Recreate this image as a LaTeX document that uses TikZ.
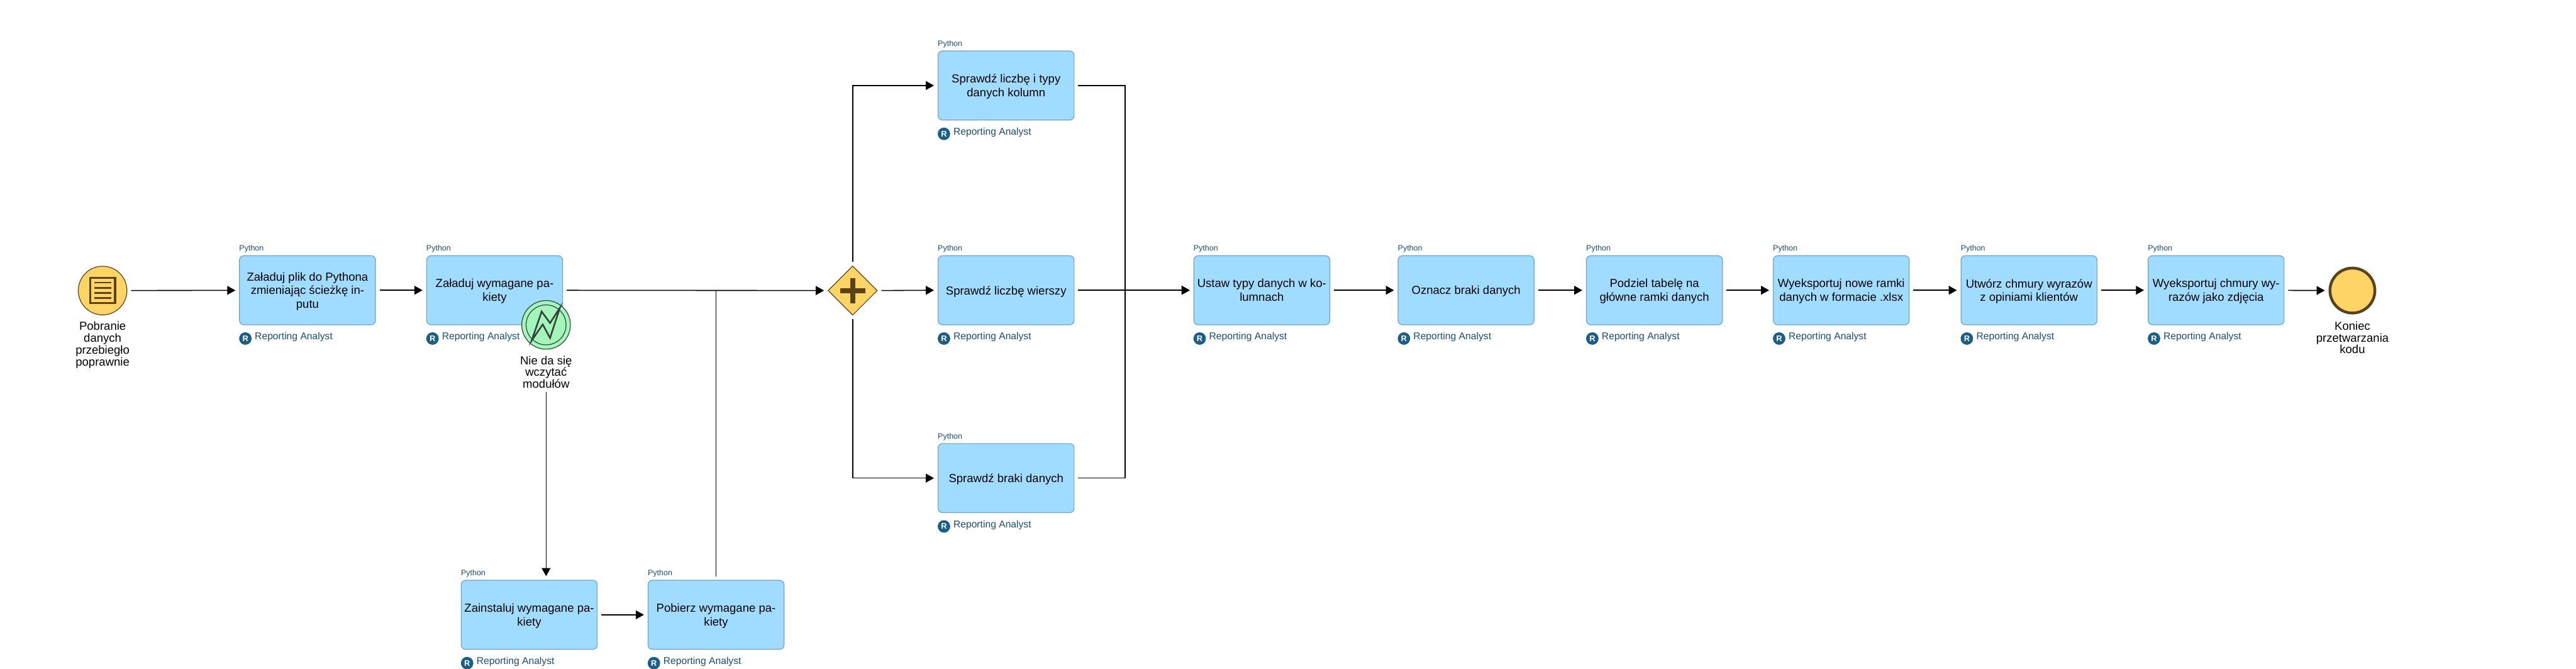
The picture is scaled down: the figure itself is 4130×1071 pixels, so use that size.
\documentclass[tikz,border=0pt]{standalone}
\usepackage{xcolor}
\usepackage{fontspec}
\setmainfont{Liberation Sans}
\usetikzlibrary{shapes.geometric, arrows.meta, positioning, calc}
\definecolor{taskfill}{RGB}{160,220,255}
\definecolor{taskline}{RGB}{110,160,208}
\definecolor{evtfill}{RGB}{255,212,102}
\definecolor{evtline}{RGB}{90,67,24}
\definecolor{errfill}{RGB}{163,245,187}
\definecolor{errline}{RGB}{52,68,56}
\definecolor{roleblue}{RGB}{27,94,135}
\definecolor{roletext}{RGB}{27,79,114}
\tikzset{
  task/.style={rectangle, draw=taskline, fill=taskfill, minimum width=218pt,
    minimum height=110.6pt, inner sep=0pt, align=center, rounded corners=7pt,
    line width=1.2pt, text depth=0pt, font=\fontsize{18.7}{22}\selectfont},
  startevt/.style={circle, draw=evtline, fill=evtfill, minimum size=78pt,
    inner sep=0pt, line width=1.2pt},
  endevt/.style={circle, draw=evtline, fill=evtfill, minimum size=72pt,
    inner sep=0pt, line width=4.5pt},
  errevt/.style={circle, draw=errline, fill=errfill, minimum size=78pt,
    inner sep=0pt, line width=1.2pt},
  gateway/.style={diamond, draw=evtline, fill=evtfill, minimum width=79pt,
    minimum height=79pt, inner sep=0pt, line width=1.2pt},
  evtlabel/.style={align=center, inner sep=0pt, font=\fontsize{18.7}{19}\selectfont},
  langlabel/.style={anchor=south west, inner sep=0pt, text=roletext,
    font=\fontsize{12.6}{14}\selectfont},
  rolebadge/.style={circle, fill=roleblue, text=white, minimum size=20pt, inner sep=0pt,
    font=\fontsize{13}{13}\selectfont\bfseries},
  rolelabel/.style={anchor=west, inner sep=0pt, text=roletext,
    font=\fontsize{15.8}{18}\selectfont},
  flow/.style={-{Triangle[length=13pt,width=14pt]}, line width=1.6pt, color=black,
    shorten >=6pt, shorten <=6pt}
}
\begin{document}
\begin{tikzpicture}[x=1pt, y=-1pt]
  \useasboundingbox[fill=white] (0,0) rectangle (4130,1071);

  % Events and gateway
  \node[startevt] (start) at (164.5,465.5) {};
  \node[evtlabel, below=10pt of start] (startlabel) {Pobranie\\danych\\przebiegło\\poprawnie};
  \node[endevt] (finish) at (3771.5,465.5) {};
  \node[evtlabel, below=11pt of finish] (finishlabel) {Koniec\\przetwarzania\\kodu};
  \node[gateway] (gate) at (1367,465.5) {};

  % Main row
  \node[task] (loadfile) at (493,465) {Załaduj plik do Pythona\\zmieniając ścieżkę in-\\putu};
  \node[task] (loadpkg) at (793,465) {Załaduj wymagane pa-\\kiety};
  \node[task] (settypes) at (2023,465) {Ustaw typy danych w ko-\\lumnach};
  \node[task] (marknull) at (2350.5,465) {Oznacz braki danych};
  \node[task] (split) at (2652.5,465) {Podziel tabelę na\\główne ramki danych};
  \node[task] (export) at (2952,465) {Wyeksportuj nowe ramki\\danych w formacie .xlsx};
  \node[task] (clouds) at (3253,465) {Utwórz chmury wyrazów\\z opiniami klientów};
  \node[task] (saveimg) at (3553,465) {Wyeksportuj chmury wy-\\razów jako zdjęcia};

  % Parallel checks
  \node[task] (chkcols) at (1613,137) {Sprawdź liczbę i typy\\danych kolumn};
  \node[task] (chkrows) at (1613,465) {Sprawdź liczbę wierszy};
  \node[task] (chknull) at (1613,766) {Sprawdź braki danych};

  % Error branch
  \node[task] (install) at (848.5,985) {Zainstaluj wymagane pa-\\kiety};
  \node[task] (fetch) at (1148,985) {Pobierz wymagane pa-\\kiety};
  \node[errevt] (err) at (875.5,520.5) {};
  \node[evtlabel, below=10pt of err] (errlabel) {Nie da się\\wczytać\\modułów};

  % Task captions
  \foreach \t in {loadfile,loadpkg,settypes,marknull,split,export,clouds,saveimg,chkcols,chkrows,chknull,install,fetch} {
    \node[langlabel] (\t-lang) at ($(\t.north west)+(0,-4)$) {Python};
    \node[rolebadge] (\t-badge) at ($(\t.south west)+(10,21.5)$) {R};
    \node[rolelabel] (\t-role) at ($(\t.south west)+(25,19)$) {Reporting Analyst};
  }

  % Start icon
  \draw[evtline, line width=3.2pt] ($(start)+(-20,-20)$) rectangle ($(start)+(20,20)$);
  \foreach \dy in {-12.5,-4.2,4,12} {
    \draw[evtline, line width=2.4pt] ($(start)+(-13.5,\dy)$) -- ($(start)+(13.5,\dy)$);
  }

  % Gateway plus
  \fill[evtline] ($(gate)+(-20,-4)$) rectangle ($(gate)+(20,4)$);
  \fill[evtline] ($(gate)+(-4,-20)$) rectangle ($(gate)+(4,20)$);

  % Error mark
  \draw[errline, line width=1.2pt] (err) circle (32);
  \draw[errline, line width=2.6pt, miter limit=10] ($(err)+(-23.2,25.3)$) -- ($(err)+(-7.1,-21.3)$)
    -- ($(err)+(6.4,-3)$) -- ($(err)+(22.1,-27.3)$) -- ($(err)+(6.4,21)$)
    -- ($(err)+(-5.4,-0.7)$) -- cycle;

  % Connectors
  \draw[flow] (start) -- (loadfile);
  \draw[flow] (loadfile) -- (loadpkg);
  \draw[flow] (loadpkg) -- (gate);
  \draw[flow] (errlabel.south) -- (errlabel.south |- install.north);
  \draw[flow] (install) -- (fetch);
  \draw[flow] (fetch.north) |- (gate.west);
  \draw[flow] (gate.north) |- (chkcols.west);
  \draw[flow] (gate.east) -- (chkrows.west);
  \draw[flow] (gate.south) |- (chknull.west);
  \coordinate (merge) at (1804,465);
  \draw[flow] (chkcols.east) -| (merge) -- (settypes.west);
  \draw[flow] (chkrows.east) -- (settypes.west);
  \draw[flow] (chknull.east) -| (merge) -- (settypes.west);
  \draw[flow] (settypes) -- (marknull);
  \draw[flow] (marknull) -- (split);
  \draw[flow] (split) -- (export);
  \draw[flow] (export) -- (clouds);
  \draw[flow] (clouds) -- (saveimg);
  \draw[flow] (saveimg) -- (finish);
\end{tikzpicture}
\end{document}
